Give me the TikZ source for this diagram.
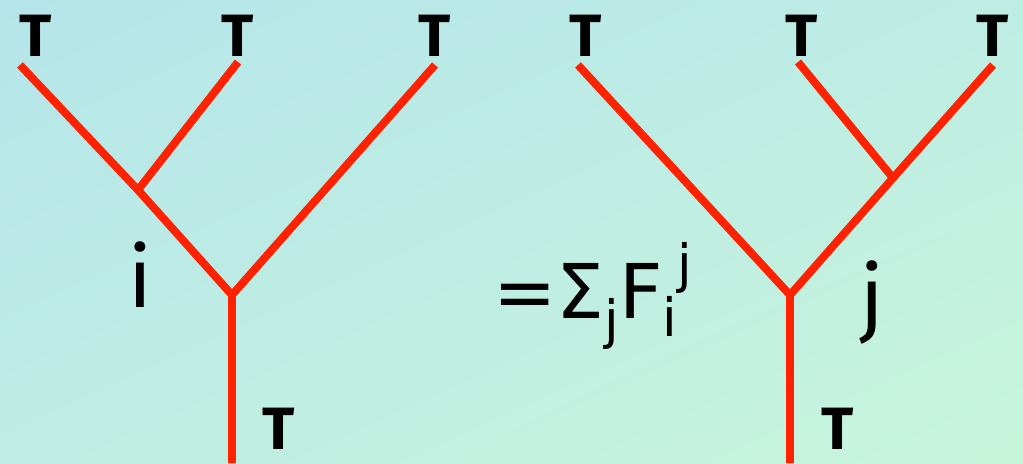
\documentclass[tikz,border=0pt]{standalone}
\usepackage{fontspec}
\usetikzlibrary{shadings}
\setmainfont{Fira Sans}
\newfontfamily\formulafont{DejaVu Sans}
\definecolor{bgblue}{RGB}{181,229,234}
\definecolor{bgmid}{RGB}{190,237,228}
\definecolor{bggreen}{RGB}{199,245,220}
\definecolor{edgered}{RGB}{255,34,0}
\newcommand{\smallidx}[1]{{\fontsize{30}{32}\selectfont #1}}
\begin{document}
\begin{tikzpicture}[
        x=0.02cm, y=-0.02cm,
        edge/.style={edgered, line width=4.5pt},
        lbl/.style={font=\bfseries\fontsize{34}{36}\selectfont, inner sep=0pt, text depth=0pt},
        idx/.style={font=\fontsize{48}{52}\selectfont, inner sep=0pt}
    ]
        % Background
        \shade[upper left=bgblue, upper right=bgmid, lower left=bgmid, lower right=bggreen]
            (0,0) rectangle (1023,463);
        \useasboundingbox (0,0) rectangle (1023,463);
        
        % Left tree
        \coordinate (la) at (20,65);
        \coordinate (lb) at (238,62);
        \coordinate (lc) at (435,65);
        \coordinate (lin) at (138,190);
        \coordinate (lroot) at (232,295);
        \coordinate (lbot) at (232,463);
        \draw[edge] (la) -- (lin) -- (lroot) -- (lbot);
        \draw[edge] (lb) -- (lin);
        \draw[edge] (lc) -- (lroot);
        
        % Right tree
        \coordinate (ra) at (578,65);
        \coordinate (rb) at (798,62);
        \coordinate (rc) at (993,65);
        \coordinate (rin) at (893,178);
        \coordinate (rroot) at (790,295);
        \coordinate (rbot) at (790,463);
        \draw[edge] (ra) -- (rroot) -- (rbot);
        \draw[edge] (rb) -- (rin) -- (rroot);
        \draw[edge] (rc) -- (rin);
        
        % Labels
        \node[lbl] (tla) at (36,36) {T};
        \node[lbl] (tlb) at (238,36) {T};
        \node[lbl] (tlc) at (435,36) {T};
        \node[lbl] (tlr) at (279,429) {T};
        \node[lbl] (tra) at (586,36) {T};
        \node[lbl] (trb) at (802,36) {T};
        \node[lbl] (trc) at (993,36) {T};
        \node[lbl] (trr) at (838,429) {T};
        \node[idx] (li) at (140,275) {i};
        \node[idx] (rj) at (872,303) {j};
        \node[idx, font=\formulafont\fontsize{43}{48}\selectfont, anchor=base west] (sum) at (493,318)
            {=Σ\raisebox{-0.5ex}{\smallidx{j}}F\raisebox{-0.45ex}{\smallidx{i}}\raisebox{0.85ex}{\smallidx{j}}};
    \end{tikzpicture}
\end{document}
